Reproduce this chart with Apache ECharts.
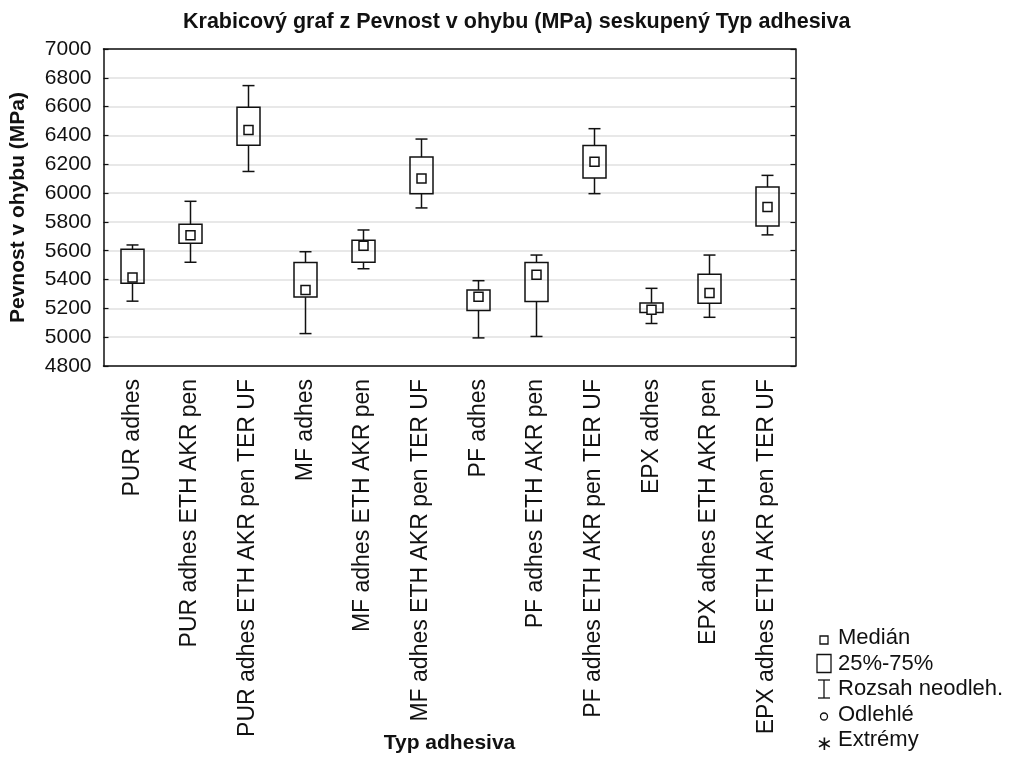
<!DOCTYPE html>
<html>
<head>
<meta charset="utf-8">
<script src="https://cdn.jsdelivr.net/npm/echarts@6/dist/echarts.min.js"></script>
<style>
  html, body { margin: 0; padding: 0; background: #ffffff; }
  #chart { width: 1011px; height: 758px; }
</style>
</head>
<body>
<div id="chart"></div>
<script>
// Adhesive groups
const categories = [
  'PUR adhes',
  'PUR adhes ETH AKR pen',
  'PUR adhes ETH AKR pen TER UF',
  'MF adhes',
  'MF adhes ETH AKR pen',
  'MF adhes ETH AKR pen TER UF',
  'PF adhes',
  'PF adhes ETH AKR pen',
  'PF adhes ETH AKR pen TER UF',
  'EPX adhes',
  'EPX adhes ETH AKR pen',
  'EPX adhes ETH AKR pen TER UF'
];

// Flexural strength (MPa) per group
const whiskerLow  = [5250, 5520, 6150, 5025, 5475, 5897, 4995, 5005, 5996, 5095, 5138, 5710];
const quartile1   = [5375, 5652, 6332, 5278, 5520, 5996, 5185, 5247, 6105, 5172, 5235, 5772];
const medians     = [5415, 5707, 6438, 5328, 5635, 6102, 5281, 5434, 6218, 5190, 5307, 5903];
const quartile3   = [5610, 5783, 6595, 5519, 5672, 6250, 5328, 5519, 6331, 5237, 5436, 6042];
const whiskerHigh = [5640, 5943, 6746, 5593, 5744, 6375, 5392, 5570, 6447, 5339, 5570, 6123];

// Value axis ticks
const yMin = 4800, yMax = 7000, yStep = 200;

// Axis titles and legend entries
const xTitle = 'Typ adhesiva';
const yTitle = 'Pevnost v ohybu (MPa)';
const legendLabels = ['Medián', '25%-75%', 'Rozsah neodleh.', 'Odlehlé', 'Extrémy'];

const boxData = categories.map((c, i) => [i, whiskerLow[i], quartile1[i], medians[i], quartile3[i], whiskerHigh[i]]);

const FONT = '"Liberation Sans", Arial, sans-serif';
const INK = '#111111';

function renderBox(params, api) {
  const idx = api.value(0);
  const pLow = api.coord([idx, api.value(1)]);
  const pQ1 = api.coord([idx, api.value(2)]);
  const pMed = api.coord([idx, api.value(3)]);
  const pQ3 = api.coord([idx, api.value(4)]);
  const pHigh = api.coord([idx, api.value(5)]);
  const cx = Math.round(pMed[0]) + 0.5;
  const boxW = 23, capW = 12, medS = 9;
  const line = { stroke: INK, lineWidth: 1.5 };
  return {
    type: 'group',
    children: [
      { type: 'line', shape: { x1: cx, y1: pHigh[1], x2: cx, y2: pQ3[1] }, style: line },
      { type: 'line', shape: { x1: cx, y1: pQ1[1], x2: cx, y2: pLow[1] }, style: line },
      { type: 'line', shape: { x1: cx - capW / 2, y1: pHigh[1], x2: cx + capW / 2, y2: pHigh[1] }, style: line },
      { type: 'line', shape: { x1: cx - capW / 2, y1: pLow[1], x2: cx + capW / 2, y2: pLow[1] }, style: line },
      { type: 'rect', shape: { x: cx - boxW / 2, y: pQ3[1], width: boxW, height: pQ1[1] - pQ3[1] },
        style: { stroke: INK, lineWidth: 1.5, fill: 'rgba(255,255,255,0)' } },
      { type: 'rect', shape: { x: cx - medS / 2, y: pMed[1] - medS / 2, width: medS, height: medS },
        style: { stroke: INK, lineWidth: 1.5, fill: '#ffffff' } }
    ]
  };
}

// Plot area in pixels
const gridLeft = 103.5, gridRight = 215.5, gridTop = 49, gridBottom = 392;
const W = 1011, H = 758;

// Axis titles drawn as graphic text
const graphics = [
  {
    type: 'text', x: 18, y: gridTop + (H - gridBottom - gridTop) / 2, rotation: Math.PI / 2,
    style: { text: yTitle, font: 'bold 21px ' + FONT, fill: INK, align: 'center', verticalAlign: 'middle' }
  },
  {
    type: 'text', x: gridLeft + (W - gridRight - gridLeft) / 2, y: 743,
    style: { text: xTitle, font: 'bold 21px ' + FONT, fill: INK, align: 'center', verticalAlign: 'middle' }
  }
];

// Legend drawn as graphic elements
const legX = 824, legTextX = 838, legY0 = 638, legDy = 25.5;
const gy = (i) => legY0 + i * legDy;
legendLabels.forEach((t, i) => {
  graphics.push({
    type: 'text', x: legTextX, y: gy(i),
    style: { text: t, font: '22px ' + FONT, fill: INK, verticalAlign: 'middle', align: 'left' }
  });
});
const thin = { stroke: INK, lineWidth: 1.3 };
graphics.push(
  { type: 'rect', shape: { x: legX - 4, y: gy(0) - 2, width: 8, height: 8 }, style: Object.assign({ fill: '#fff' }, thin) },
  { type: 'rect', shape: { x: legX - 7, y: gy(1) - 9, width: 14, height: 18 }, style: Object.assign({ fill: '#fff' }, thin) },
  { type: 'line', shape: { x1: legX, y1: gy(2) - 9, x2: legX, y2: gy(2) + 9 }, style: thin },
  { type: 'line', shape: { x1: legX - 6, y1: gy(2) - 9, x2: legX + 6, y2: gy(2) - 9 }, style: thin },
  { type: 'line', shape: { x1: legX - 6, y1: gy(2) + 9, x2: legX + 6, y2: gy(2) + 9 }, style: thin },
  { type: 'circle', shape: { cx: legX, cy: gy(3) + 2, r: 3.5 }, style: Object.assign({ fill: '#fff' }, thin) },
  { type: 'text', x: legX, y: gy(4) + 4, style: { text: '∗', font: '20px ' + FONT, fill: INK, align: 'center', verticalAlign: 'middle' } }
);

const chart = echarts.init(document.getElementById('chart'), null, { renderer: 'canvas' });
chart.setOption({
  backgroundColor: '#ffffff',
  animation: false,
  title: {
    text: 'Krabicový graf z Pevnost v ohybu (MPa) seskupený Typ adhesiva',
    left: 178, top: 6,
    textStyle: { fontFamily: FONT, fontWeight: 'bold', fontSize: 21.5, color: INK }
  },
  grid: { left: gridLeft, right: gridRight, top: gridTop, bottom: gridBottom, containLabel: false, outerBoundsMode: 'none' },
  xAxis: [
    {
      type: 'category', data: categories, position: 'bottom',
      axisLine: { lineStyle: { color: INK, width: 1.5 } },
      axisTick: { inside: true, alignWithLabel: true, length: 5, lineStyle: { color: INK, width: 1.2 } },
      axisLabel: { rotate: 90, margin: 13, fontFamily: FONT, fontSize: 23, color: INK, interval: 0 },
      splitLine: { show: false }
    },
    {
      type: 'category', data: categories, position: 'top',
      axisLine: { lineStyle: { color: INK, width: 1.5 } },
      axisTick: { inside: true, alignWithLabel: true, length: 5, lineStyle: { color: INK, width: 1.2 } },
      axisLabel: { show: false },
      splitLine: { show: false }
    }
  ],
  yAxis: [
    {
      type: 'value', min: yMin, max: yMax, interval: yStep, position: 'left',
      axisLine: { show: true, lineStyle: { color: INK, width: 1.5 } },
      axisTick: { show: true, inside: true, length: 5, lineStyle: { color: INK, width: 1.2 } },
      axisLabel: { margin: 12, fontFamily: FONT, fontSize: 21, color: INK, formatter: (v) => String(v) },
      splitLine: { show: true, lineStyle: { color: '#e0e0e0', width: 1.5 } }
    },
    {
      type: 'value', min: yMin, max: yMax, interval: yStep, position: 'right',
      axisLine: { show: true, lineStyle: { color: INK, width: 1.5 } },
      axisTick: { show: true, inside: true, length: 5, lineStyle: { color: INK, width: 1.2 } },
      axisLabel: { show: false },
      splitLine: { show: false }
    }
  ],
  series: [{
    type: 'custom',
    xAxisIndex: 0, yAxisIndex: 0,
    renderItem: renderBox,
    encode: { x: 0, y: [1, 2, 3, 4, 5] },
    data: boxData,
    z: 5
  }],
  graphic: graphics
});
</script>
</body>
</html>
